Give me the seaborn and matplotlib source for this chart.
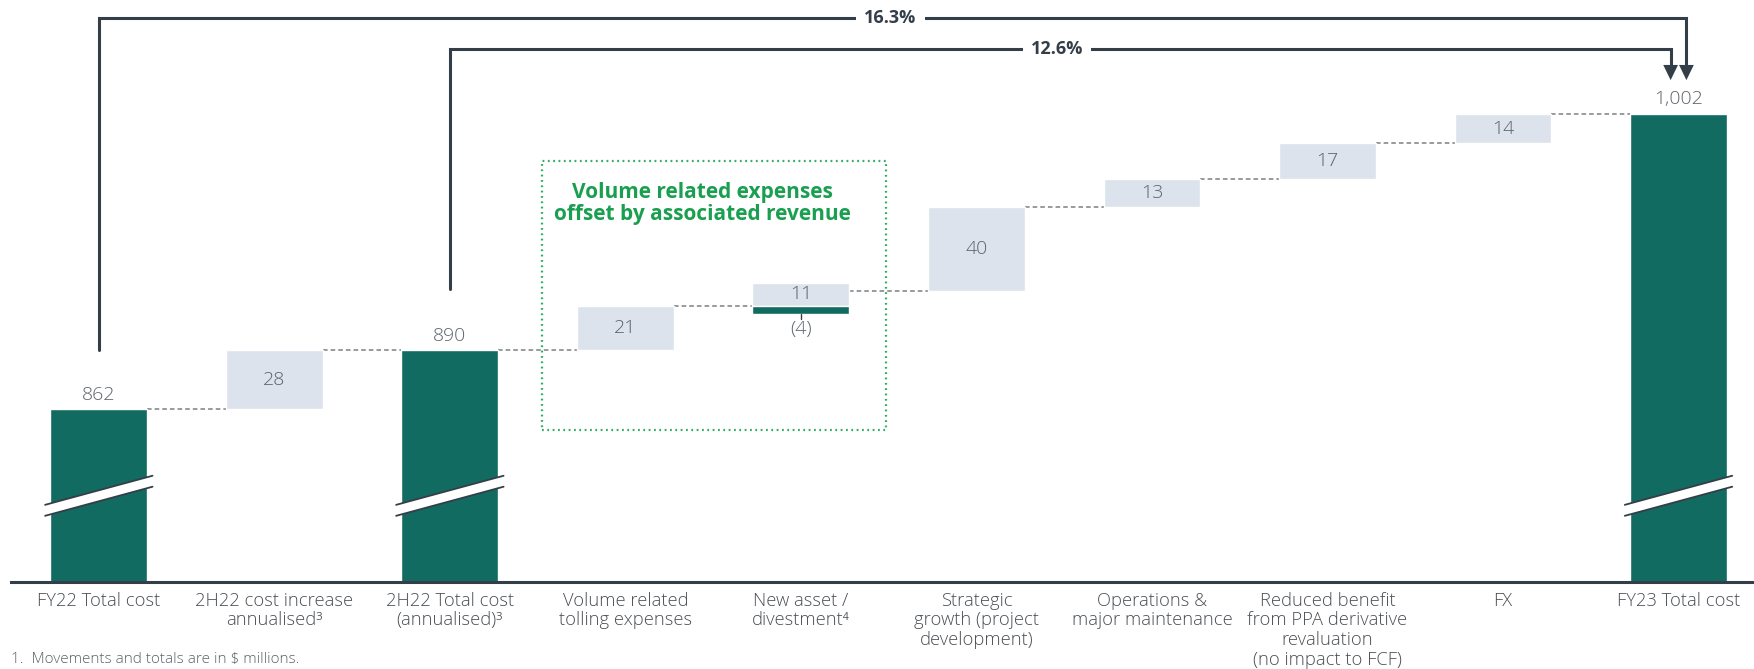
import numpy as np
import pandas as pd
import seaborn as sns
import matplotlib.pyplot as plt
from matplotlib.patches import Rectangle, Polygon

# data
categories = ["FY22 Total cost", "2H22 cost increase\nannualised\u00b3", "2H22 Total cost\n(annualised)\u00b3",
              "Volume related\ntolling expenses", "New asset /\ndivestment\u2074", "Strategic\ngrowth (project\ndevelopment)",
              "Operations &\nmajor maintenance", "Reduced benefit\nfrom PPA derivative\nrevaluation\n(no impact to FCF)",
              "FX", "FY23 Total cost"]
totals = [862, np.nan, 890, np.nan, np.nan, np.nan, np.nan, np.nan, np.nan, 1002]
total_labels = ["862", "", "890", "", "", "", "", "", "", "1,002"]
increases = [0, 28, 0, 21, 11, 40, 13, 17, 14, 0]
decreases = [0, 0, 0, 0, 4, 0, 0, 0, 0, 0]
pct_labels = ["16.3%", "12.6%"]

teal = "#116b60"
light = "#dde3ed"
dark = "#343e48"
grey_txt = "#5b636b"
green = "#1a9f50"
val_fs = 14

sns.set_theme(style="white")
plt.rcParams["font.family"] = ["Open Sans", "DejaVu Sans"]

fig = plt.figure(figsize=(17.54, 6.69), dpi=100)
ax = fig.add_axes([0.0063, 0.13, 0.9937, 0.87])

df = pd.DataFrame({"cat": categories, "total": totals})
w = 0.552
sns.barplot(data=df, x="cat", y="total", order=categories, color=teal, saturation=1,
            width=w, ax=ax, zorder=2)

# waterfall steps
level = totals[0]
levels_after = []
for i in range(len(categories)):
    if not np.isnan(totals[i]):
        level = totals[i]
    else:
        if increases[i]:
            ax.bar(i, increases[i], bottom=level, width=w, color=light, zorder=2)
            ax.text(i, level + increases[i] / 2, str(increases[i]), ha="center", va="center",
                    fontsize=val_fs, color=grey_txt, fontweight="light")
        if decreases[i]:
            ax.bar(i, decreases[i], bottom=level - decreases[i], width=w, color=teal, zorder=2)
            ax.plot([i, i], [level - decreases[i], level - decreases[i] - 2.5], color=dark, lw=1)
            ax.text(i, level - decreases[i] - 2.8, "(%d)" % decreases[i], ha="center", va="top",
                    fontsize=val_fs, color=grey_txt, fontweight="light")
        level = level + increases[i] - decreases[i]
    levels_after.append(level)

# connectors
for i in range(len(categories) - 1):
    ax.plot([i + w / 2, i + 1 - w / 2], [levels_after[i]] * 2, color="#7a7f85", lw=1.1,
            ls=(0, (3, 2)), zorder=1)

# total labels and break marks
for i, t in enumerate(totals):
    if np.isnan(t):
        continue
    ax.annotate(total_labels[i], (i, t), xytext=(0, 4), textcoords="offset points",
                ha="center", va="bottom", fontsize=val_fs, color=grey_txt, fontweight="light")
    x0, x1 = i - 0.306, i + 0.306
    ax.add_patch(Polygon([(x0, 811.4), (x1, 825.2), (x1, 830.4), (x0, 816.6)],
                         closed=True, fc="white", ec="none", zorder=3))
    ax.plot([x0, x1], [811.4, 825.2], color=dark, lw=1.3, zorder=4)
    ax.plot([x0, x1], [816.6, 830.4], color=dark, lw=1.3, zorder=4)

# growth brackets
tip = 1018
brackets = [(0, 890, 1047.5, 9.045, 4.51), (2, 919, 1032.8, 8.955, 5.46)]
for (xs, ys, yt, xe, xl), lab in zip(brackets, pct_labels):
    ax.plot([xs, xs, xe, xe], [ys, yt, yt, tip + 6], color=dark, lw=2.2,
            solid_joinstyle="miter", zorder=5)
    ax.add_patch(Polygon([(xe - 0.042, tip + 7.2), (xe + 0.042, tip + 7.2), (xe, tip)],
                         closed=True, fc=dark, ec="none", zorder=5))
    ax.text(xl, yt, lab, ha="center", va="center", fontsize=13, fontweight="bold",
            color=dark, zorder=6,
            bbox=dict(boxstyle="square,pad=0.45", fc="white", ec="none"))

# volume related box
ax.add_patch(Rectangle((2.523, 852.1), 4.487 - 2.523, 979.8 - 852.1, fill=False,
                       ec="#2eae62", lw=1.6, ls=(0, (0.8, 1.6)), zorder=1))
ax.text(3.44, 959.5, "Volume related expenses\noffset by associated revenue", ha="center",
        va="center", fontsize=15, fontweight="bold", color=green, linespacing=1.1)

ax.set_xlim(-0.5, 9.43)
ax.set_ylim(780, 1056)
ax.set_xlabel("")
ax.set_ylabel("")
ax.set_yticks([])
ax.tick_params(axis="x", length=0, pad=7, labelsize=13.2, labelcolor="#4a4f55")
for lbl in ax.get_xticklabels():
    lbl.set_fontweight("light")
    lbl.set_linespacing(1.12)
for s in ["left", "right", "top"]:
    ax.spines[s].set_visible(False)
ax.spines["bottom"].set_color(dark)
ax.spines["bottom"].set_linewidth(2.2)

fig.text(0.0063, 1 - 652 / 669, "1.  Movements and totals are in $ millions.", ha="left", va="top",
         fontsize=11, color=grey_txt, fontweight="light")

fig.savefig("out.png", dpi=100)
